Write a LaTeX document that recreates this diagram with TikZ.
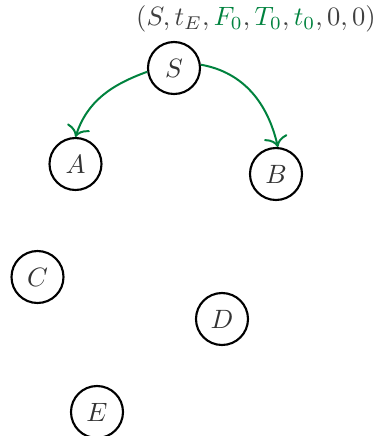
\documentclass[tikz,border=0pt]{standalone}
\usetikzlibrary{arrows.meta}
\definecolor{dgreen}{RGB}{0,130,62}
\begin{document}
\begin{tikzpicture}[x=0.377pt,y=-0.377pt,
  state/.style={circle,draw=black,line width=0.8pt,minimum size=19.6pt,inner sep=0pt,text=black!80},
  edge/.style={-{To[length=4pt,width=9pt]},draw=dgreen,line width=0.75pt}]
\useasboundingbox (0,0) rectangle (374,436);
\node[state] (S) at (174,68) {$S$};
\node[state] (A) at (75.5,164) {$A$};
\node[state] (B) at (276,174) {$B$};
\node[state] (C) at (37.5,277) {$C$};
\node[state] (D) at (222,319) {$D$};
\node[state] (E) at (97,412) {$E$};
\node[text=black!75] (L) at (256,19) {$(S,t_E,{\color{dgreen}F_0},{\color{dgreen}T_0},{\color{dgreen}t_0},0,0)$};
\draw[edge] (S.188) to[out=200,in=72] (A.90);
\draw[edge] (S.7) to[out=-10,in=103] (B.86);
\end{tikzpicture}
\end{document}
